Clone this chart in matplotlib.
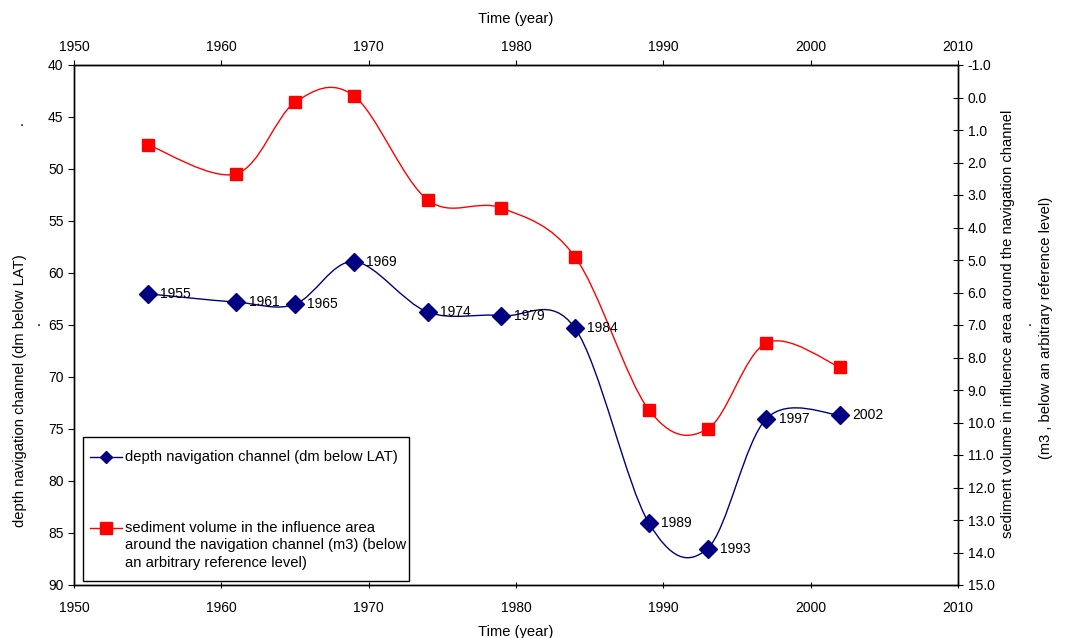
import numpy as np
import matplotlib
matplotlib.use("Agg")
import matplotlib.pyplot as plt
from matplotlib.path import Path
from matplotlib.patches import PathPatch, Rectangle
from matplotlib.lines import Line2D

plt.rcParams['font.family'] = ['Liberation Sans', 'DejaVu Sans']

years = [1955, 1961, 1965, 1969, 1974, 1979, 1984, 1989, 1993, 1997, 2002]
depth = [62.0, 62.8, 63.0, 58.9, 63.75, 64.1, 65.3, 84.0, 86.5, 74.0, 73.65]
sediment = [1.45, 2.35, 0.15, -0.05, 3.15, 3.4, 4.9, 9.6, 10.2, 7.55, 8.3]
year_labels = [str(y) for y in years]

x_ticks = [1950, 1960, 1970, 1980, 1990, 2000, 2010]
left_ticks = [40, 45, 50, 55, 60, 65, 70, 75, 80, 85, 90]
right_ticks = [-1.0, 0.0, 1.0, 2.0, 3.0, 4.0, 5.0, 6.0, 7.0, 8.0, 9.0, 10.0,
               11.0, 12.0, 13.0, 14.0, 15.0]

BLUE = '#000080'
RED = '#FF0000'
FS = 10
FT = 10.6


def smooth_path(x, y):
    pts = np.column_stack([x, y]).astype(float)
    ext = np.vstack([pts[0], pts, pts[-1]])
    verts = [tuple(pts[0])]
    codes = [Path.MOVETO]
    for i in range(1, len(ext) - 2):
        p0, p1, p2, p3 = ext[i - 1], ext[i], ext[i + 1], ext[i + 2]
        c1 = p1 + (p2 - p0) / 6.0
        c2 = p2 - (p3 - p1) / 6.0
        verts += [tuple(c1), tuple(c2), tuple(p2)]
        codes += [Path.CURVE4] * 3
    return Path(verts, codes)


fig = plt.figure(figsize=(10.66, 6.38), dpi=100)
ax = fig.add_axes([74 / 1066, 1 - 585 / 638, 884 / 1066, 520 / 638])
ax2 = ax.twinx()

ax.set_xlim(1950, 2010)
ax.set_ylim(90, 40)
ax2.set_ylim(15, -1)

# red sediment series (right axis)
ax2.add_patch(PathPatch(smooth_path(years, sediment), facecolor='none',
                        edgecolor=RED, lw=1.0))
ax2.plot(years, sediment, ls='none', marker='s', ms=9, color=RED, mec=RED)

# blue depth series (left axis)
ax.add_patch(PathPatch(smooth_path(years, depth), facecolor='none',
                       edgecolor=BLUE, lw=1.0))
ax.plot(years, depth, ls='none', marker='D', ms=9, color=BLUE, mec=BLUE)
for xv, yv, lab in zip(years, depth, year_labels):
    ax.annotate(lab, (xv, yv), xytext=(9, 0), textcoords='offset points',
                va='center', ha='left', fontsize=FS)

ax.set_zorder(ax2.get_zorder() + 1)
ax.patch.set_visible(False)

ax.set_xticks(x_ticks)
ax.set_yticks(left_ticks)
ax2.set_yticks(right_ticks)
ax2.set_yticklabels(['%.1f' % v for v in right_ticks])

ax.tick_params(axis='y', direction='out', length=4, labelsize=FS)
ax.tick_params(axis='x', direction='inout', length=5, labelsize=FS, pad=9)
ax2.tick_params(axis='y', direction='inout', length=7, labelsize=FS)

sec = ax.secondary_xaxis('top')
sec.set_xticks(x_ticks)
sec.tick_params(direction='out', length=3.6, labelsize=FS, pad=4.5)
sec.set_xlabel('Time (year)', fontsize=FT, labelpad=12)

ax.set_xlabel('Time (year)', fontsize=FT, labelpad=7)
ax.set_ylabel('depth navigation channel (dm below LAT)', fontsize=FT)
ax.yaxis.set_label_coords((27 - 74) / 884, (585 - 391) / 520)

for a in (ax, ax2):
    for s in a.spines.values():
        s.set_linewidth(1.0)

# right axis titles
fig.text(1008 / 1066, 1 - 324 / 638,
         'sediment volume in influence area around the navigation channel',
         rotation=90, ha='center', va='center', fontsize=FT)
fig.text(1046 / 1066, 1 - 328 / 638,
         '(m3 , below an arbitrary reference level)',
         rotation=90, ha='center', va='center', fontsize=FT)
fig.text(1030 / 1066, 1 - 322 / 638, '.', ha='center', va='center', fontsize=FT)
fig.text(22 / 1066, 1 - 122 / 638, '.', ha='center', va='center', fontsize=FT)
fig.text(39 / 1066, 1 - 322 / 638, '.', ha='center', va='center', fontsize=FT)

# manual legend
def px2ax(px, py):
    return ((px - 74) / 884, (585 - py) / 520)

x0, y0 = px2ax(83, 581)
x1, y1 = px2ax(409, 437)
ax.add_patch(Rectangle((x0, y0), x1 - x0, y1 - y0, transform=ax.transAxes,
                       facecolor='white', edgecolor='black', lw=1.0, zorder=10))
for py, col, mk, ms in [(457, BLUE, 'D', 6), (528, RED, 's', 8)]:
    la, ya = px2ax(90, py)
    lb, _ = px2ax(122, py)
    lm, _ = px2ax(106, py)
    ax.add_line(Line2D([la, lb], [ya, ya], color=col, lw=1.0,
                       transform=ax.transAxes, zorder=11))
    ax.add_line(Line2D([lm], [ya], marker=mk, ms=ms, color=col, ls='none',
                       transform=ax.transAxes, zorder=11))
tx, ty = px2ax(125, 457)
ax.text(tx, ty, 'depth navigation channel (dm below LAT)', transform=ax.transAxes,
        va='center', ha='left', fontsize=FT, zorder=12)
for i, line in enumerate(['sediment volume in the influence area',
                          'around the navigation channel (m3) (below',
                          'an arbitrary reference level)']):
    tx, ty = px2ax(125, 528 + i * 17.5)
    ax.text(tx, ty, line, transform=ax.transAxes, va='center', ha='left',
            fontsize=FT, zorder=12)

fig.savefig('out.png', dpi=100)
